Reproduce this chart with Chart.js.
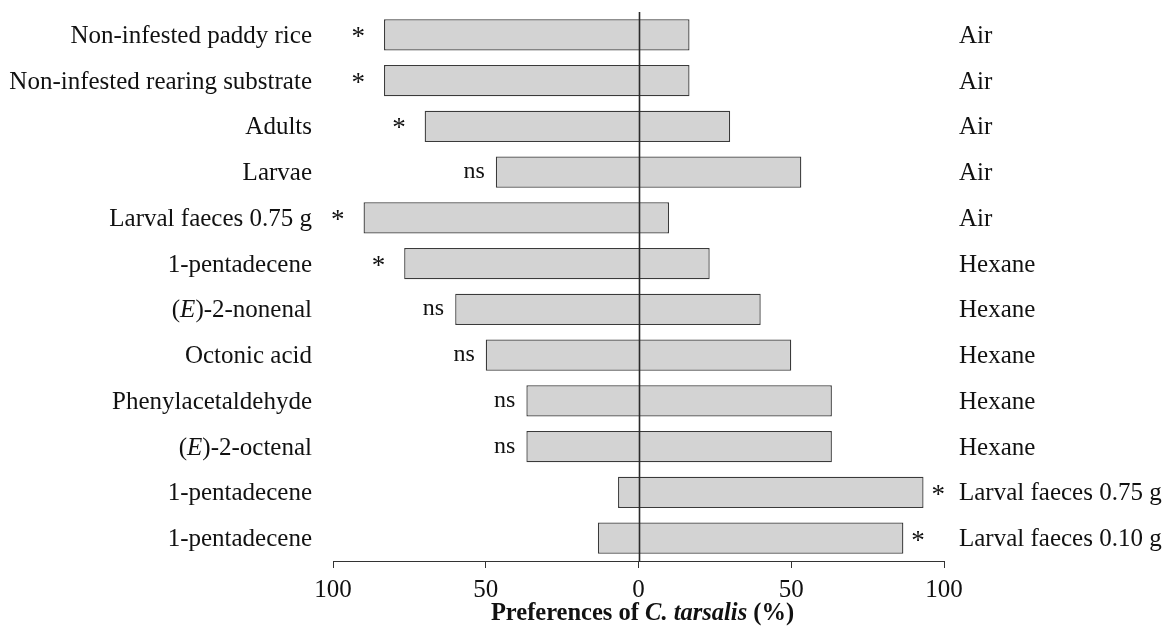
<!DOCTYPE html>
<html>
<head>
<meta charset="utf-8">
<script src="https://cdn.jsdelivr.net/npm/chart.js@4.4.0/dist/chart.umd.min.js"></script>
<style>
  body { margin: 0; background: #fff; }
</style>
</head>
<body>
<canvas id="pref-chart" width="1165" height="630"></canvas>
<script>
// odour source on the left arm, control on the right arm
let treatments = ['Non-infested paddy rice', 'Non-infested rearing substrate', 'Adults', 'Larvae',
    'Larval faeces 0.75 g', '1-pentadecene', '(<i>E</i>)-2-nonenal', 'Octonic acid',
    'Phenylacetaldehyde', '(<i>E</i>)-2-octenal', '1-pentadecene', '1-pentadecene']
let controls = ['Air', 'Air', 'Air', 'Air', 'Air', 'Hexane', 'Hexane', 'Hexane', 'Hexane', 'Hexane',
    'Larval faeces 0.75 g', 'Larval faeces 0.10 g']

// % of insects choosing each arm
let treatmentPct = [83.3, 83.3, 70, 46.7, 90, 76.7, 60, 50, 36.7, 36.7, 6.7, 13.3]
let controlPct = [16.7, 16.7, 30, 53.3, 10, 23.3, 40, 50, 63.3, 63.3, 93.3, 86.7]
let significance = ['*', '*', '*', 'ns', '*', '*', 'ns', 'ns', 'ns', 'ns', '*', '*']

let xTicks = [-100, -50, 0, 50, 100]
let xTitle = 'Preferences of <i>C. tarsalis</i> (%)'

const FONT = '"Liberation Serif", "Times New Roman", serif'

function drawRich(ctx, text, x, y, align, weight, size){
    // text may contain <i>..</i> parts
    let segs = text.split(/(<i>.*?<\/i>)/).filter(p => p.length).map(p => {
        if (p.startsWith('<i>')) return {t: p.slice(3, -4), italic: true}
        return {t: p, italic: false}
    })
    let widths = segs.map(s => {
        ctx.font = (s.italic ? 'italic ' : '') + weight + size + 'px ' + FONT
        return ctx.measureText(s.t).width
    })
    let total = widths.reduce((a, b) => a + b, 0)
    let cx = x
    if (align == 'right') cx = x - total
    if (align == 'center') cx = x - total / 2
    ctx.textAlign = 'left'
    for (let i = 0; i < segs.length; i++){
        ctx.font = (segs[i].italic ? 'italic ' : '') + weight + size + 'px ' + FONT
        ctx.fillText(segs[i].t, cx, y)
        cx += widths[i]
    }
}

const annotate = {
    id: 'annotate',
    afterDatasetsDraw(chart){
        let ctx = chart.ctx
        let xs = chart.scales.x
        let ys = chart.scales.y
        let area = chart.chartArea
        ctx.save()

        // vertical line at 0
        let x0 = Math.round(xs.getPixelForValue(0)) + 0.5
        ctx.strokeStyle = '#2a2a2a'
        ctx.lineWidth = 1.6
        ctx.beginPath()
        ctx.moveTo(x0, area.top)
        ctx.lineTo(x0, area.bottom)
        ctx.stroke()

        ctx.fillStyle = '#111'
        ctx.textBaseline = 'alphabetic'
        for (let i = 0; i < treatments.length; i++){
            let yc = ys.getPixelForValue(i)
            drawRich(ctx, treatments[i], area.left - 21, yc + 8, 'right', '', 25)
            drawRich(ctx, controls[i], area.right + 15, yc + 8, 'left', '', 25)

            // significance mark, '*' goes on the preferred side
            let mark = significance[i]
            if (mark == 'ns'){
                ctx.font = '24px ' + FONT
                ctx.textAlign = 'right'
                ctx.fillText(mark, xs.getPixelForValue(-treatmentPct[i]) - 11, yc + 6)
                continue
            }
            ctx.font = '27px ' + FONT
            if (treatmentPct[i] >= controlPct[i]){
                ctx.textAlign = 'right'
                ctx.fillText(mark, xs.getPixelForValue(-treatmentPct[i]) - 19, yc + 10)
            } else {
                ctx.textAlign = 'left'
                ctx.fillText(mark, xs.getPixelForValue(controlPct[i]) + 8, yc + 11)
            }
        }

        // axis title
        drawRich(ctx, xTitle, (area.left + area.right) / 2 + 4, chart.height - 10, 'center', 'bold ', 24.5)
        ctx.restore()
    }
}

let barData = treatmentPct.map((v, i) => [-v, controlPct[i]])

new Chart(document.getElementById('pref-chart'), {
    type: 'bar',
    data: {
        labels: treatments,
        datasets: [{
            data: barData,
            backgroundColor: '#d3d3d3',
            borderColor: '#3a3a3a',
            borderWidth: 1.3,
            borderSkipped: false,
            categoryPercentage: 1,
            barPercentage: 0.685
        }]
    },
    options: {
        indexAxis: 'y',
        responsive: false,
        animation: false,
        layout: {padding: {left: 333, right: 221, top: 12, bottom: 0}},
        plugins: {legend: {display: false}, tooltip: {enabled: false}},
        scales: {
            x: {
                min: -100,
                max: 100,
                afterBuildTicks: (scale) => { scale.ticks = xTicks.map(v => ({value: v})) },
                afterFit: (scale) => { scale.height = 69 },
                grid: {drawOnChartArea: false, drawTicks: true, tickLength: 7, color: '#333', lineWidth: 1},
                border: {display: true, color: '#333', width: 1},
                ticks: {
                    color: '#111',
                    padding: 7,
                    maxRotation: 0,
                    font: {family: FONT, size: 25},
                    callback: (v) => Math.abs(v)
                }
            },
            y: {
                display: false
            }
        }
    },
    plugins: [annotate]
})
</script>
</body>
</html>
